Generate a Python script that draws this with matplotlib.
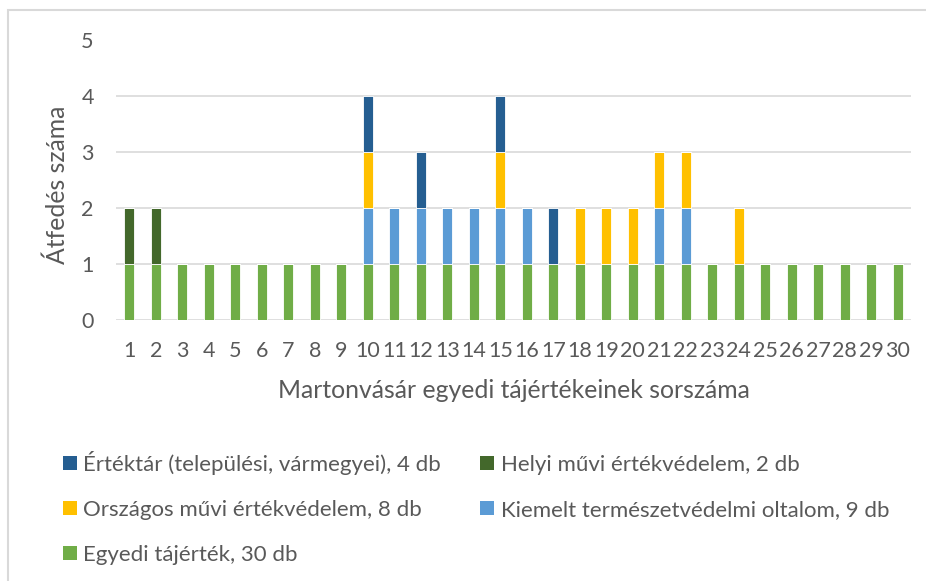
import matplotlib
matplotlib.use("Agg")
import matplotlib.pyplot as plt
from matplotlib.patches import Rectangle, Patch
import numpy as np

plt.rcParams['font.family'] = ['Lato', 'DejaVu Sans']

categories = [str(i) for i in range(1, 31)]
egyedi   = [1]*30
kiemelt  = [0,0,0,0,0,0,0,0,0,1,1,1,1,1,1,1,0,0,0,0,1,1,0,0,0,0,0,0,0,0]
orszagos = [0,0,0,0,0,0,0,0,0,1,0,0,0,0,1,0,0,1,1,1,1,1,0,1,0,0,0,0,0,0]
helyi    = [1,1,0,0,0,0,0,0,0,0,0,0,0,0,0,0,0,0,0,0,0,0,0,0,0,0,0,0,0,0]
ertektar = [0,0,0,0,0,0,0,0,0,1,0,1,0,0,1,0,1,0,0,0,0,0,0,0,0,0,0,0,0,0]

series = [
    ("Egyedi tájérték, 30 db", egyedi, "#70AD47"),
    ("Kiemelt természetvédelmi oltalom, 9 db", kiemelt, "#5B9BD5"),
    ("Országos művi értékvédelem, 8 db", orszagos, "#FFC000"),
    ("Helyi művi értékvédelem, 2 db", helyi, "#43682B"),
    ("Értéktár (települési, vármegyei), 4 db", ertektar, "#255E91"),
]

W, H = 926, 581
fig = plt.figure(figsize=(W/100, H/100), dpi=100)
ax = fig.add_axes([116/W, 1-320/H, (911-116)/W, (320-39.5)/H])

x = np.arange(len(categories))
bottom = np.zeros(len(categories))
for name, vals, col in series:
    v = np.array(vals, dtype=float)
    ax.bar(x, v, 0.38, bottom=bottom, color=col, edgecolor='white',
           linewidth=0.6, zorder=3)
    bottom += v

TXT = '#595959'
ax.set_xlim(-0.5, len(categories)-0.5)
ax.set_ylim(0, 5)
ax.set_yticks(range(0, 6))
ax.set_xticks(x)
ax.set_xticklabels(categories)
ax.grid(axis='y', color='#D9D9D9', linewidth=1.2, zorder=0)
for s in ax.spines.values():
    s.set_visible(False)
ax.tick_params(length=0, colors=TXT, labelsize=15.5)
ax.tick_params(axis='x', pad=15)
ax.tick_params(axis='y', pad=16)
ax.set_xlabel("Martonvásár egyedi tájértékeinek sorszáma", fontsize=17.8, color=TXT, labelpad=13)
fig.text(57/W, 1-185/H, "Átfedés száma", rotation=90, ha='center', va='center',
         fontsize=17.8, color=TXT)

# legend, row-major arrangement
order = [4, 2, 0, 3, 1]
handles = [Patch(facecolor=series[i][2]) for i in order]
labels = [series[i][0] for i in order]
fig.legend(handles, labels, ncol=2, loc='upper left',
           bbox_to_anchor=(63/W, 1-451/H), frameon=False,
           fontsize=16, labelcolor=TXT, handlelength=0.62,
           handleheight=0.62, handletextpad=0.3, columnspacing=1.75,
           labelspacing=1.12, borderaxespad=0, borderpad=0)

# chart border
fig.patches.append(Rectangle((7.5/W, -0.1), 1.0, 1-9.5/H+0.1, transform=fig.transFigure,
                             fill=False, edgecolor='#D9D9D9', linewidth=1.5))

fig.savefig("out.png", dpi=100)
